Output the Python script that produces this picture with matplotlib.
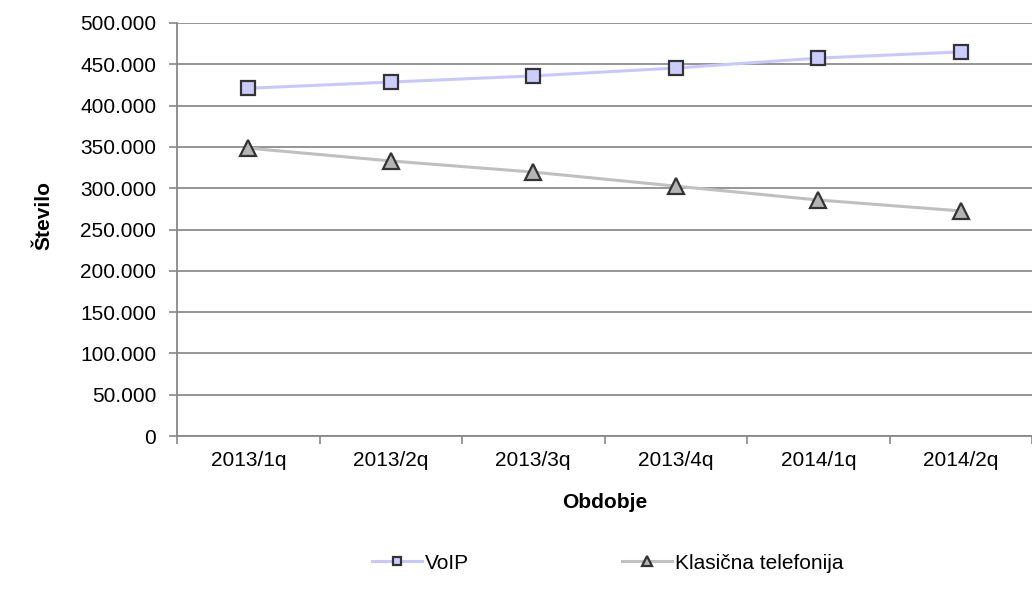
import matplotlib
matplotlib.use('Agg')
import matplotlib.pyplot as plt
from matplotlib.ticker import FuncFormatter, FixedLocator

# ---------------------------
# Data
# ---------------------------
periods = ['2013/1q', '2013/2q', '2013/3q', '2013/4q', '2014/1q', '2014/2q']
voip = [421000, 428500, 436000, 445500, 457500, 465000]
klasicna = [348500, 333000, 319500, 302500, 285700, 272500]

plt.rcParams['font.family'] = ['Liberation Sans', 'DejaVu Sans']

fig = plt.figure(figsize=(10.32, 5.98), dpi=100)
ax = fig.add_axes([177 / 1032, 162 / 598, 1 - 177 / 1032, 413 / 598])

x = list(range(len(periods)))

ax.plot(x, voip, color='#c8c8ff', lw=2.2, marker='s', markersize=10,
        markerfacecolor='#ccccff', markeredgecolor='#333333', markeredgewidth=1.6,
        label='VoIP', zorder=3)
ax.plot(x, klasicna, color='#c0c0c0', lw=2.2, marker='^', markersize=11,
        markerfacecolor='#b4b4b4', markeredgecolor='#333333', markeredgewidth=1.6,
        label='Klasična telefonija', zorder=3)

# axes
ax.set_xlim(-0.5, len(periods) - 0.5)
ax.set_ylim(0, 500000)
ax.set_yticks(range(0, 500001, 50000))
ax.yaxis.set_major_formatter(FuncFormatter(lambda v, p: f'{int(v):,}'.replace(',', '.')))
ax.set_xticks(x)
ax.set_xticklabels(periods)
ax.xaxis.set_minor_locator(FixedLocator([i - 0.5 for i in range(len(periods) + 1)]))

ax.tick_params(axis='y', direction='out', length=6, width=1.2, color='#888888',
               pad=9, labelsize=15, labelcolor='#000000')
ax.tick_params(axis='x', which='major', length=0, pad=11, labelsize=15)
ax.tick_params(axis='x', which='minor', direction='out', length=6, width=1.2, color='#888888')

ax.grid(axis='y', color='#8c8c8c', lw=1.3)
ax.set_axisbelow(True)
for s in ['top', 'right']:
    ax.spines[s].set_visible(False)
for s in ['left', 'bottom']:
    ax.spines[s].set_color('#888888')
    ax.spines[s].set_linewidth(1.3)

ax.set_xlabel('Obdobje', fontsize=15, fontweight='bold')
ax.xaxis.set_label_coords(0.5, -0.138)
ax.set_ylabel('Število', fontsize=15, fontweight='bold', va='center')
ax.yaxis.set_label_coords(-0.156, 0.533)

fig.legend(loc='center', bbox_to_anchor=(0.589, 0.0585), ncol=2, frameon=False,
           fontsize=15, handlelength=2.4, handletextpad=0.15, columnspacing=7.35,
           markerscale=0.6)

plt.savefig('out.png', dpi=100)
